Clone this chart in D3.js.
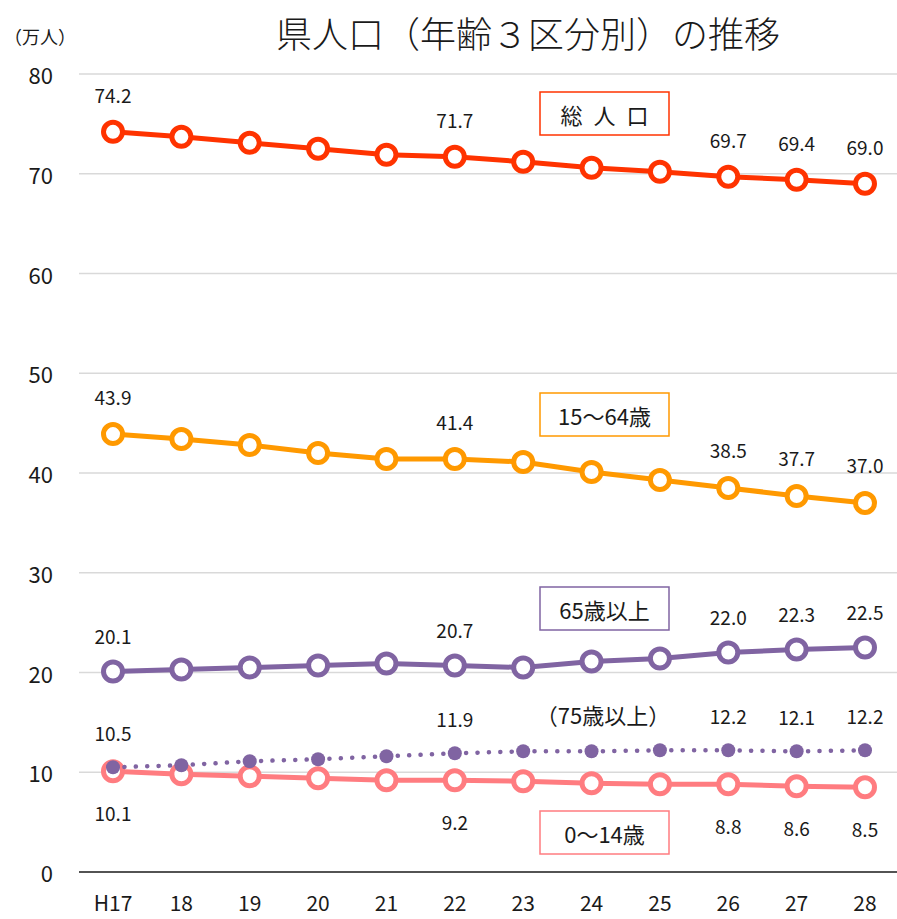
<!DOCTYPE html>
<html>
<head>
<meta charset="utf-8">
<script src="https://cdn.jsdelivr.net/npm/d3@7"></script>
<style>
  body { margin: 0; background: #fff; }
  text { font-family: "Noto Sans CJK JP", "Noto Sans", sans-serif; fill: #1a1a1a; }
</style>
</head>
<body>
<svg id="chart" width="897" height="919"></svg>
<script>
const years = ["H17", "18", "19", "20", "21", "22", "23", "24", "25", "26", "27", "28"];
const total  = [74.2, 73.7, 73.1, 72.5, 71.9, 71.7, 71.2, 70.6, 70.2, 69.7, 69.4, 69.0];
const age1564 = [43.9, 43.4, 42.8, 42.0, 41.4, 41.4, 41.1, 40.1, 39.3, 38.5, 37.7, 37.0];
const age65 = [20.1, 20.3, 20.5, 20.7, 20.9, 20.7, 20.5, 21.1, 21.4, 22.0, 22.3, 22.5];
const age75 = [10.5, 10.7, 11.1, 11.3, 11.6, 11.9, 12.1, 12.1, 12.2, 12.2, 12.1, 12.2];
const age014 = [10.1, 9.8, 9.6, 9.4, 9.2, 9.2, 9.1, 8.9, 8.8, 8.8, 8.6, 8.5];
const yTicks = [0, 10, 20, 30, 40, 50, 60, 70, 80];
const labelIdx = [0, 5, 9, 10, 11];

const svg = d3.select("#chart");

const x = d3.scalePoint().domain(years).range([113, 865]);
const y = d3.scaleLinear().domain([0, 80]).range([872, 74]);

// title
svg.append("text")
    .attr("x", 528).attr("y", 32)
    .attr("text-anchor", "middle")
    .attr("dominant-baseline", "central")
    .style("font-size", "36px")
    .style("font-weight", "300")
    .text("県人口（年齢３区分別）の推移");

svg.append("text")
    .attr("x", 40).attr("y", 36)
    .attr("text-anchor", "middle")
    .attr("dominant-baseline", "central")
    .style("font-size", "18px")
    .text("（万人）");

// grid
svg.append("g").selectAll("line")
    .data(yTicks.filter(d => d > 0))
    .enter().append("line")
    .attr("x1", 79).attr("x2", 897)
    .attr("y1", d => y(d)).attr("y2", d => y(d))
    .attr("stroke", "#d9d9d9")
    .attr("stroke-width", 1.5);

svg.append("line")
    .attr("x1", 79).attr("x2", 897)
    .attr("y1", y(0)).attr("y2", y(0))
    .attr("stroke", "#1a1a1a")
    .attr("stroke-width", 1.5);

svg.append("g").selectAll("text")
    .data(yTicks)
    .enter().append("text")
    .attr("x", 53).attr("y", d => y(d))
    .attr("text-anchor", "end")
    .attr("dominant-baseline", "central")
    .style("font-size", "22px")
    .text(d => d);

svg.append("g").selectAll("text")
    .data(years)
    .enter().append("text")
    .attr("x", d => x(d)).attr("y", 902)
    .attr("text-anchor", "middle")
    .attr("dominant-baseline", "central")
    .style("font-size", "21px")
    .text(d => d);

const series = [
    {name: "総\u2002人\u2002口", values: total, color: "#FF3300", dy: -37, box: 114},
    {name: "15〜64歳", values: age1564, color: "#FF9900", dy: -38, box: 415},
    {name: "65歳以上", values: age65, color: "#8064A2", dy: -36, box: 609},
    {name: "0〜14歳", values: age014, color: "#FF7C80", dy: 41, box: 833}
];

const line = d3.line()
    .x((d, i) => x(years[i]))
    .y(d => y(d));

series.forEach(s => {
    const g = svg.append("g");
    g.append("path")
        .attr("d", line(s.values))
        .attr("fill", "none")
        .attr("stroke", s.color)
        .attr("stroke-width", 5);
    g.selectAll("circle")
        .data(s.values)
        .enter().append("circle")
        .attr("cx", (d, i) => x(years[i]))
        .attr("cy", d => y(d))
        .attr("r", 9.5)
        .attr("fill", "#fff")
        .attr("stroke", s.color)
        .attr("stroke-width", 5);
});

// 75歳以上 (dotted)
svg.append("path")
    .attr("d", line(age75))
    .attr("fill", "none")
    .attr("stroke", "#8064A2")
    .attr("stroke-width", 4.5)
    .attr("stroke-linecap", "round")
    .attr("stroke-dasharray", "0.1,11.3");

svg.append("g").selectAll("circle")
    .data(age75)
    .enter().append("circle")
    .attr("cx", (d, i) => x(years[i]))
    .attr("cy", d => y(d))
    .attr("r", 7)
    .attr("fill", "#8064A2");

// data labels
function labels(values, dy) {
    svg.append("g").selectAll("text")
        .data(labelIdx)
        .enter().append("text")
        .attr("x", i => x(years[i]))
        .attr("y", i => y(values[i]) + dy)
        .attr("text-anchor", "middle")
        .attr("dominant-baseline", "central")
        .style("font-size", "19px")
        .text(i => values[i].toFixed(1));
}
series.forEach(s => labels(s.values, s.dy));
labels(age75, -35);

// legend boxes
series.forEach(s => {
    svg.append("rect")
        .attr("x", 540).attr("y", s.box - 22)
        .attr("width", 129).attr("height", 43)
        .attr("fill", "#fff")
        .attr("stroke", s.color)
        .attr("stroke-width", 1.5);
    svg.append("text")
        .attr("x", 604.5).attr("y", s.box)
        .attr("text-anchor", "middle")
        .attr("dominant-baseline", "central")
        .style("font-size", "22px")
        .text(s.name);
});

svg.append("text")
    .attr("x", 603).attr("y", 714)
    .attr("text-anchor", "middle")
    .attr("dominant-baseline", "central")
    .style("font-size", "22px")
    .text("（75歳以上）");
</script>
</body>
</html>
